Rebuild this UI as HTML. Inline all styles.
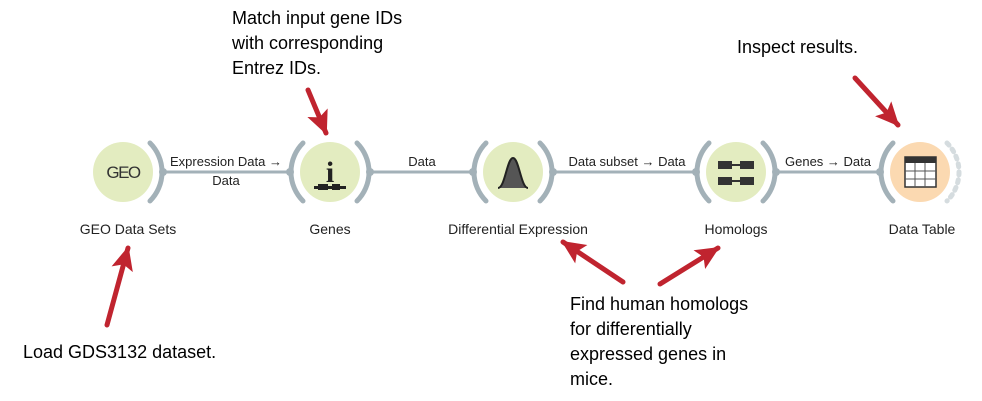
<!DOCTYPE html>
<html><head><meta charset="utf-8"><style>
html,body{margin:0;padding:0;background:#fff;}
svg{display:block;}
text{font-family:"Liberation Sans",sans-serif;}
.lbl{font-size:13px;fill:#222;text-anchor:middle;}
.nm{font-size:14px;fill:#222;text-anchor:middle;}
.ann{font-size:18px;fill:#000;}
.arc{fill:none;stroke:#a3b1b8;stroke-width:5;stroke-linecap:round;}
.ln{stroke:#a3b1b8;stroke-width:3;}
.dot{fill:#a3b1b8;}
.ar{stroke:#c0242f;stroke-width:5;stroke-linecap:round;}
</style></head><body>
<svg width="982" height="401" viewBox="0 0 982 401" xmlns="http://www.w3.org/2000/svg">
<defs>
<marker id="ah" markerUnits="userSpaceOnUse" markerWidth="26" markerHeight="22" refX="22" refY="11" orient="auto">
<path d="M0,0 L24,11 L0,22 L5,11 Z" fill="#c0242f"/>
</marker>
</defs>
<line class="ln" x1="166" y1="172" x2="287" y2="172"/>
<line class="ln" x1="373" y1="172" x2="470" y2="172"/>
<line class="ln" x1="556" y1="172" x2="693" y2="172"/>
<line class="ln" x1="779" y1="172" x2="877" y2="172"/>
<text class="lbl" x="226" y="166">Expression Data →</text>
<text class="lbl" x="226" y="185">Data</text>
<text class="lbl" x="422" y="166">Data</text>
<text class="lbl" x="627" y="166">Data subset → Data</text>
<text class="lbl" x="828" y="166">Genes → Data</text>

<circle cx="123" cy="172" r="30" fill="#e3ecc0"/>
<path class="arc" d="M150,143 A41,41 0 0 1 150,201"/>
<circle class="dot" cx="163" cy="172" r="4"/>
<text x="123" y="178" text-anchor="middle" style="font-size:17px;fill:#333;letter-spacing:-1.5px">GEO</text>
<text class="nm" x="128" y="234">GEO Data Sets</text>

<circle cx="330" cy="172" r="30" fill="#e3ecc0"/>
<path class="arc" d="M303,143 A41,41 0 0 0 303,201"/>
<path class="arc" d="M357,143 A41,41 0 0 1 357,201"/>
<circle class="dot" cx="290" cy="172" r="4"/>
<circle class="dot" cx="370" cy="172" r="4"/>
<text x="330" y="182" text-anchor="middle" style="font-family:'Liberation Serif',serif;font-size:30px;font-weight:bold;fill:#222">i</text>
<rect x="314" y="186" width="32" height="3" fill="#222"/>
<rect x="318" y="184" width="10" height="6" fill="#222"/>
<rect x="332" y="184" width="8" height="6" fill="#222"/>
<text class="nm" x="330" y="234">Genes</text>

<circle cx="513" cy="172" r="30" fill="#e3ecc0"/>
<path class="arc" d="M486,143 A41,41 0 0 0 486,201"/>
<path class="arc" d="M540,143 A41,41 0 0 1 540,201"/>
<circle class="dot" cx="473" cy="172" r="4"/>
<circle class="dot" cx="553" cy="172" r="4"/>
<path d="M498,188 C505,188 507,158 513,158 C519,158 521,188 528,188 Z" fill="#555"/>
<path d="M498,188 C505,188 507,158 513,158 C519,158 521,188 528,188" fill="none" stroke="#222" stroke-width="2"/>
<text class="nm" x="518" y="234">Differential Expression</text>

<circle cx="736" cy="172" r="30" fill="#e3ecc0"/>
<path class="arc" d="M709,143 A41,41 0 0 0 709,201"/>
<path class="arc" d="M763,143 A41,41 0 0 1 763,201"/>
<circle class="dot" cx="696" cy="172" r="4"/>
<circle class="dot" cx="776" cy="172" r="4"/>
<rect x="718" y="161" width="14" height="8" fill="#333"/><rect x="740" y="161" width="14" height="8" fill="#333"/><rect x="730" y="164" width="12" height="2" fill="#333"/>
<rect x="718" y="177" width="14" height="8" fill="#333"/><rect x="740" y="177" width="14" height="8" fill="#333"/><rect x="730" y="180" width="12" height="2" fill="#333"/>
<text class="nm" x="736" y="234">Homologs</text>

<circle cx="920" cy="172" r="30" fill="#fbd9b1"/>
<path class="arc" d="M893,143 A41,41 0 0 0 893,201"/>
<path d="M947,143 A41,41 0 0 1 947,201" fill="none" stroke="#d5dcdf" stroke-width="5" stroke-dasharray="3,5" stroke-linecap="round"/>
<circle class="dot" cx="880" cy="172" r="4"/>
<rect x="905" y="157" width="31" height="30" fill="#fff" stroke="#333" stroke-width="1.5"/>
<rect x="905" y="157" width="31" height="6" fill="#333"/>
<path d="M915,163V187M925,163V187M905,171H936M905,179H936" stroke="#555" stroke-width="1"/>
<text class="nm" x="922" y="234">Data Table</text>

<text class="ann" x="232" y="24">Match input gene IDs</text>
<text class="ann" x="232" y="49">with corresponding</text>
<text class="ann" x="232" y="74">Entrez IDs.</text>
<text class="ann" x="737" y="53">Inspect results.</text>
<text class="ann" x="23" y="358">Load GDS3132 dataset.</text>
<text class="ann" x="570" y="310">Find human homologs</text>
<text class="ann" x="570" y="335">for differentially</text>
<text class="ann" x="570" y="360">expressed genes in</text>
<text class="ann" x="570" y="385">mice.</text>

<line class="ar" x1="107" y1="325" x2="128" y2="248" marker-end="url(#ah)"/>
<line class="ar" x1="308" y1="90" x2="326" y2="133" marker-end="url(#ah)"/>
<line class="ar" x1="855" y1="78" x2="898" y2="125" marker-end="url(#ah)"/>
<line class="ar" x1="623" y1="282" x2="563" y2="242" marker-end="url(#ah)"/>
<line class="ar" x1="660" y1="284" x2="718" y2="248" marker-end="url(#ah)"/>
</svg>
</body></html>
